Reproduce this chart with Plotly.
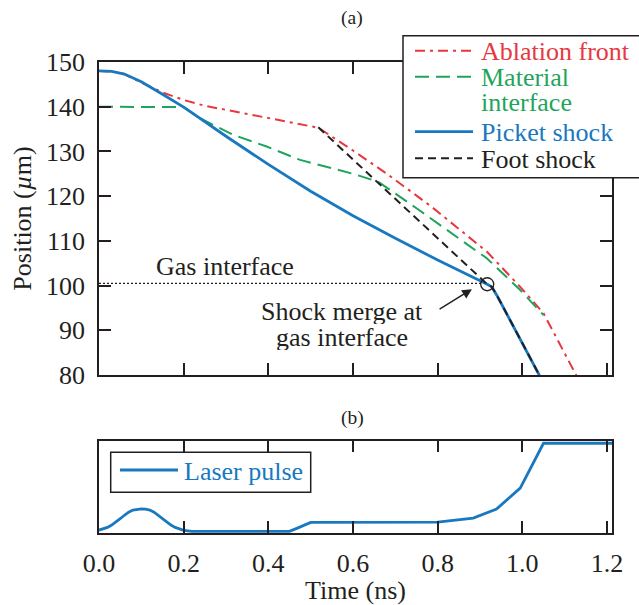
import plotly.graph_objects as go

# ---------------- data ----------------
ablation_t = [0, 0.05, 0.1, 0.15, 0.2, 0.25, 0.3, 0.4, 0.518, 0.6, 0.68, 0.786, 0.916, 0.995, 1.05, 1.127, 1.14]
ablation_y = [148, 147.7, 145.4, 143.2, 141.5, 140.2, 139.3, 137.4, 135.3, 130.2, 125.0, 117.6, 107.6, 99.7, 93.8, 80.0, 77.6]

material_t = [0, 0.19, 0.2, 0.239, 0.317, 0.396, 0.475, 0.6, 0.66, 0.75, 0.84, 0.916, 0.995, 1.05]
material_y = [140, 140, 139.9, 137.4, 133.7, 131.1, 128.1, 125.0, 123.2, 117.3, 111.3, 106.1, 99.0, 93.4]

picket_t = [0, 0.03, 0.06, 0.1, 0.15, 0.2, 0.3, 0.4, 0.5, 0.6, 0.7, 0.8, 0.917, 0.928, 0.94, 1.04, 1.06]
picket_y = [148, 147.9, 147.3, 145.6, 142.8, 139.9, 133.4, 127.1, 121.1, 115.6, 110.6, 105.7, 100.3, 99.7, 97.8, 80.0, 76.4]

foot_t = [0.518, 0.66, 0.917, 0.928, 0.94, 1.04, 1.06]
foot_y = [135.4, 122.9, 100.3, 99.7, 97.8, 80.0, 76.4]

gas_interface_t = [0, 0.902]
gas_interface_y = [100.5, 100.5]
merge_t = [0.917]
merge_y = [100.3]

laser_t = [0, 0.01, 0.02, 0.03, 0.04, 0.05, 0.06, 0.07, 0.08, 0.09, 0.1, 0.11, 0.12, 0.13,
           0.14, 0.15, 0.16, 0.17, 0.18, 0.19, 0.2, 0.22, 0.45, 0.47, 0.5, 0.8, 0.829,
           0.884, 0.939, 0.995, 1.05, 1.212]
laser_p = [0.015, 0.027, 0.046, 0.072, 0.105, 0.144, 0.183, 0.218, 0.242, 0.252, 0.255, 0.252,
           0.242, 0.218, 0.183, 0.144, 0.105, 0.072, 0.046, 0.027, 0.012, 0.0, 0.0, 0.04, 0.102,
           0.105, 0.121, 0.151, 0.253, 0.491, 1.0, 1.0]

x_ticks = [0.0, 0.2, 0.4, 0.6, 0.8, 1.0, 1.2]
y_ticks = [80, 90, 100, 110, 120, 130, 140, 150]

# ---------------- styling ----------------
RED, GREEN, BLUE, BLACK = "#e8373f", "#1fa55b", "#1878c0", "#231f20"
FONT = "Liberation Serif"
FS = 26

W, H = 639, 605
L, R, T, B = 99, 27, 62, 72


def pxx(x):
    return (x - L) / (W - L - R)


def pxy(y):
    return (H - B - y) / (H - T - B)


fig = go.Figure()

fig.add_trace(go.Scatter(x=gas_interface_t, y=gas_interface_y, mode="lines",
                         line=dict(color=BLACK, width=1.2, dash="2px,2px"),
                         showlegend=False, xaxis="x", yaxis="y", hoverinfo="skip"))
fig.add_trace(go.Scatter(x=ablation_t, y=ablation_y, mode="lines", name="Ablation front",
                         line=dict(color=RED, width=2, dash="10px,5px,3px,5px"),
                         showlegend=False, xaxis="x", yaxis="y"))
fig.add_trace(go.Scatter(x=material_t, y=material_y, mode="lines", name="Material interface",
                         line=dict(color=GREEN, width=2, dash="14px,7px"),
                         showlegend=False, xaxis="x", yaxis="y"))
fig.add_trace(go.Scatter(x=picket_t, y=picket_y, mode="lines", name="Picket shock",
                         line=dict(color=BLUE, width=2.8),
                         showlegend=False, xaxis="x", yaxis="y"))
fig.add_trace(go.Scatter(x=foot_t, y=foot_y, mode="lines", name="Foot shock",
                         line=dict(color=BLACK, width=2, dash="8px,5px"),
                         showlegend=False, xaxis="x", yaxis="y"))
fig.add_trace(go.Scatter(x=merge_t, y=merge_y, mode="markers",
                         marker=dict(symbol="circle-open", size=13, color=BLACK, line=dict(width=1.3)),
                         showlegend=False, xaxis="x", yaxis="y"))
fig.add_trace(go.Scatter(x=laser_t, y=laser_p, mode="lines", name="Laser pulse",
                         line=dict(color=BLUE, width=2.8),
                         showlegend=False, xaxis="x2", yaxis="y2"))

axis_common = dict(showgrid=False, zeroline=False, showline=True, linecolor=BLACK, linewidth=1.5,
                   ticks="inside", ticklen=12, tickwidth=1.5, tickcolor=BLACK,
                   tickfont=dict(family=FONT, size=FS, color=BLACK))

x_range = [0, 1.2118]
fig.update_layout(
    width=W, height=H,
    margin=dict(l=L, r=R, t=T, b=B, autoexpand=False),
    paper_bgcolor="white", plot_bgcolor="white",
    font=dict(family=FONT, size=FS, color=BLACK),
    xaxis=dict(domain=[0, 1], range=x_range, anchor="y", tickvals=x_ticks,
               showticklabels=False, mirror="ticks", **axis_common),
    yaxis=dict(domain=[pxy(375), 1], range=[80, 150], anchor="x", tickvals=y_ticks,
               mirror="ticks", ticklabelstandoff=7,
               title=dict(text="Position (<i>µ</i>m)", font=dict(family=FONT, size=FS, color=BLACK),
                          standoff=7),
               **axis_common),
    xaxis2=dict(domain=[0, 1], range=x_range, anchor="y2", tickvals=x_ticks,
                ticktext=[f"{v:.1f}" for v in x_ticks], mirror="ticks", ticklabelstandoff=6,
                title=dict(text="Time (ns)", font=dict(family=FONT, size=FS, color=BLACK), standoff=5),
                **axis_common),
    yaxis2=dict(domain=[0, pxy(440.7)], range=[-0.018, 1.029], anchor="x2",
                showgrid=False, zeroline=False, showline=True, linecolor=BLACK, linewidth=1.5,
                mirror=True, ticks="", showticklabels=False),
)

shapes = []
annotations = []
TIGHT = 25  # explicit text-box height for the tightly stacked labels

# top legend (manual)
shapes.append(dict(type="rect", xref="paper", yref="paper", x0=pxx(403), x1=pxx(660),
                   y0=pxy(35.7), y1=pxy(177.7), line=dict(color=BLACK, width=1.5),
                   fillcolor="white", layer="above"))
legend_rows = [
    ("Ablation front", RED, "10px,5px,3px,5px", 2, 50.7),
    ("Material", GREEN, "14px,7px", 2, 76.7),
    ("Picket shock", BLUE, "solid", 2.8, 131.7),
    ("Foot shock", BLACK, "8px,5px", 2, 158.3),
]
for name, col, dash, w, yy in legend_rows:
    shapes.append(dict(type="line", xref="paper", yref="paper", x0=pxx(415), x1=pxx(473),
                       y0=pxy(yy), y1=pxy(yy), line=dict(color=col, width=w, dash=dash),
                       layer="above"))
    annotations.append(dict(xref="paper", yref="paper", x=pxx(479), y=pxy(yy + 1), text=name,
                            showarrow=False, xanchor="left", yanchor="middle", height=TIGHT,
                            font=dict(family=FONT, size=FS, color=col)))
annotations.append(dict(xref="paper", yref="paper", x=pxx(479), y=pxy(102.7), text="interface",
                        showarrow=False, xanchor="left", yanchor="middle", height=TIGHT,
                        font=dict(family=FONT, size=FS, color=GREEN)))

# bottom legend (manual)
shapes.append(dict(type="rect", xref="paper", yref="paper", x0=pxx(110.7), x1=pxx(310.7),
                   y0=pxy(452.3), y1=pxy(492.3), line=dict(color=BLACK, width=1.5),
                   fillcolor="white", layer="above"))
shapes.append(dict(type="line", xref="paper", yref="paper", x0=pxx(120), x1=pxx(178),
                   y0=pxy(470), y1=pxy(470), line=dict(color=BLUE, width=2.8), layer="above"))
annotations.append(dict(xref="paper", yref="paper", x=pxx(182), y=pxy(471), text="Laser pulse",
                        showarrow=False, xanchor="left", yanchor="middle",
                        font=dict(family=FONT, size=FS, color=BLUE)))

# text labels
annotations.append(dict(xref="paper", yref="paper", x=pxx(225), y=pxy(266), text="Gas interface",
                        showarrow=False, xanchor="center", yanchor="middle",
                        font=dict(family=FONT, size=FS, color=BLACK)))
annotations.append(dict(xref="paper", yref="paper", x=pxx(342), y=pxy(311), text="Shock merge at",
                        showarrow=False, xanchor="center", yanchor="middle", height=TIGHT,
                        font=dict(family=FONT, size=FS, color=BLACK)))
annotations.append(dict(xref="paper", yref="paper", x=pxx(342), y=pxy(337), text="gas interface",
                        showarrow=False, xanchor="center", yanchor="middle", height=TIGHT,
                        font=dict(family=FONT, size=FS, color=BLACK)))
# arrow to the merge point
annotations.append(dict(xref="x", yref="y", x=0.881, y=99.2, axref="x", ayref="y", ax=0.801, ay=94.5,
                        text="", showarrow=True, arrowhead=2, arrowsize=1.3, arrowwidth=1.5,
                        arrowcolor=BLACK))
# panel labels
annotations.append(dict(xref="paper", yref="paper", x=pxx(352), y=pxy(18), text="(a)",
                        showarrow=False, xanchor="center", yanchor="middle",
                        font=dict(family=FONT, size=19.5, color=BLACK)))
annotations.append(dict(xref="paper", yref="paper", x=pxx(352.7), y=pxy(418), text="(b)",
                        showarrow=False, xanchor="center", yanchor="middle",
                        font=dict(family=FONT, size=19.5, color=BLACK)))

fig.update_layout(shapes=shapes, annotations=annotations)
fig.write_html("out.html", config={"displayModeBar": False},
               post_script="document.body.style.margin='0px';")
